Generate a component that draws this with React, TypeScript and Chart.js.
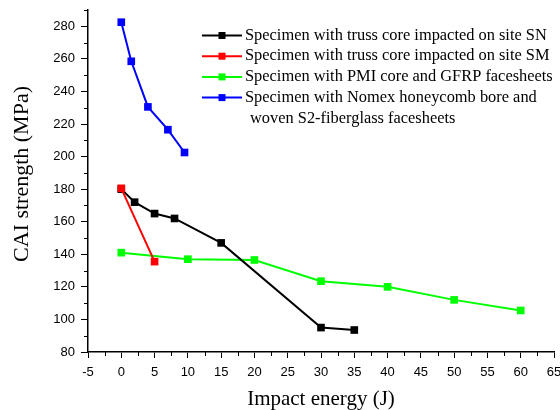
import React, { useEffect, useRef } from "react";
import { Chart, registerables } from "chart.js";

Chart.register(...registerables);

// ---- data ----
const snX = [0, 2, 5, 8, 15, 30, 35];
const snY = [180, 172, 165, 162, 147, 95, 93.5];
const smX = [0, 5];
const smY = [180.5, 135.5];
const pmiX = [0, 10, 20, 30, 40, 50, 60];
const pmiY = [141, 137, 136.5, 123.5, 120, 112, 105.5];
const nomexX = [0, 1.5, 4, 7, 9.5];
const nomexY = [282.5, 258.5, 230.5, 216.5, 202.5];

const seriesLabels: string[][] = [
  ["Specimen with truss core impacted on site SN"],
  ["Specimen with truss core impacted on site SM"],
  ["Specimen with PMI core and GFRP facesheets"],
  ["Specimen with Nomex honeycomb bore and", "woven S2-fiberglass facesheets"],
];
const seriesColors = ["#000000", "#ff0000", "#00ff00", "#0000ff"];
const seriesOrder = [1, 0, 2, 3];

const xMin = -5;
const xMax = 65;
const xStep = 5;
const yMin = 80;
const yMax = 290;
const yStep = 20;
const xMinorTicks = [-2.5, 2.5, 7.5, 12.5, 17.5, 22.5, 27.5, 32.5, 37.5, 42.5, 47.5, 52.5, 57.5, 62.5];
const yMinorTicks = [90, 110, 130, 150, 170, 190, 210, 230, 250, 270, 290];

const xAxisTitle = "Impact energy (J)";
const yAxisTitle = "CAI strength (MPa)";

const toPoints = (xs: number[], ys: number[]) => xs.map((x, i) => ({ x, y: ys[i] }));

const SERIF = "'Liberation Serif', 'Times New Roman', serif";
const SANS = "'Liberation Sans', Arial, sans-serif";

const extrasPlugin = {
  id: "extras",
  afterDraw(chart: any) {
    const ctx = chart.ctx as CanvasRenderingContext2D;
    const xs = chart.scales.x;
    const ys = chart.scales.y;
    const area = chart.chartArea;
    ctx.save();
    // minor ticks
    ctx.strokeStyle = "#000";
    ctx.lineWidth = 1;
    ctx.beginPath();
    xMinorTicks.forEach((v) => {
      const px = Math.round(xs.getPixelForValue(v)) + 0.5;
      ctx.moveTo(px, area.bottom);
      ctx.lineTo(px, area.bottom + 4);
    });
    yMinorTicks.forEach((v) => {
      const py = Math.round(ys.getPixelForValue(v)) + 0.5;
      ctx.moveTo(area.left, py);
      ctx.lineTo(area.left - 4, py);
    });
    ctx.stroke();

    // axis titles
    ctx.fillStyle = "#000";
    ctx.textAlign = "center";
    ctx.textBaseline = "middle";
    ctx.font = `21px ${SERIF}`;
    ctx.fillText(xAxisTitle, (area.left + area.right) / 2, 399);
    ctx.save();
    ctx.translate(22, 174);
    ctx.rotate(-Math.PI / 2);
    ctx.font = `22px ${SERIF}`;
    ctx.fillText(yAxisTitle, 0, 0);
    ctx.restore();

    // legend
    ctx.font = `16.4px ${SERIF}`;
    ctx.textAlign = "left";
    let row = 0;
    const rowH = 20.7;
    const top = 35.5;
    seriesLabels.forEach((lines, i) => {
      const y = top + row * rowH;
      ctx.strokeStyle = seriesColors[i];
      ctx.lineWidth = 2;
      ctx.beginPath();
      ctx.moveTo(202, y);
      ctx.lineTo(242, y);
      ctx.stroke();
      ctx.fillStyle = seriesColors[i];
      ctx.fillRect(222 - 3.5, y - 3.5, 7, 7);
      ctx.fillStyle = "#000";
      lines.forEach((t, k) => {
        ctx.fillText(t, k === 0 ? 245 : 250, top + (row + k) * rowH);
      });
      row += lines.length;
    });
    ctx.restore();
  },
};

export default function App() {
  const ref = useRef<HTMLCanvasElement | null>(null);
  useEffect(() => {
    if (!ref.current) return;
    const datasets = [
      toPoints(snX, snY),
      toPoints(smX, smY),
      toPoints(pmiX, pmiY),
      toPoints(nomexX, nomexY),
    ].map((data, i) => ({
      label: seriesLabels[i].join(" "),
      data,
      borderColor: seriesColors[i],
      backgroundColor: seriesColors[i],
      borderWidth: 2,
      pointStyle: "rect" as const,
      pointRadius: 5.4,
      pointBorderWidth: 0,
      pointHoverRadius: 5.4,
      tension: 0,
      order: seriesOrder[i],
    }));
    const chart = new Chart(ref.current, {
      type: "line",
      data: { datasets },
      plugins: [extrasPlugin],
      options: {
        animation: false,
        responsive: false,
        events: [],
        layout: { padding: { left: 0, right: 6, top: 10, bottom: 0 } },
        plugins: { legend: { display: false }, tooltip: { enabled: false } },
        scales: {
          x: {
            type: "linear",
            min: xMin,
            max: xMax,
            afterFit: (s: any) => {
              s.height = 58;
              s.paddingLeft = 0;
              s.paddingRight = 0;
            },
            ticks: {
              stepSize: xStep,
              padding: 7,
              color: "#000",
              maxRotation: 0,
              autoSkip: false,
              font: { family: SANS, size: 13 },
            },
            grid: {
              drawOnChartArea: false,
              drawTicks: true,
              tickLength: 6,
              tickColor: "#000",
              tickWidth: 1,
            },
            border: { display: true, color: "#000", width: 1.5 },
          },
          y: {
            type: "linear",
            min: yMin,
            max: yMax,
            afterFit: (s: any) => {
              s.width = 88;
              s.paddingTop = 0;
              s.paddingBottom = 0;
            },
            ticks: {
              stepSize: yStep,
              includeBounds: false,
              padding: 6,
              color: "#000",
              autoSkip: false,
              font: { family: SANS, size: 13 },
            },
            grid: {
              drawOnChartArea: false,
              drawTicks: true,
              tickLength: 7,
              tickColor: "#000",
              tickWidth: 1,
            },
            border: { display: true, color: "#000", width: 1.5 },
          },
        },
      },
    });
    return () => chart.destroy();
  }, []);
  return (
    <div style={{ position: "absolute", left: 0, top: 0, width: 560, height: 410, background: "#fff" }}>
      <canvas ref={ref} width={560} height={410} style={{ display: "block" }} />
    </div>
  );
}
